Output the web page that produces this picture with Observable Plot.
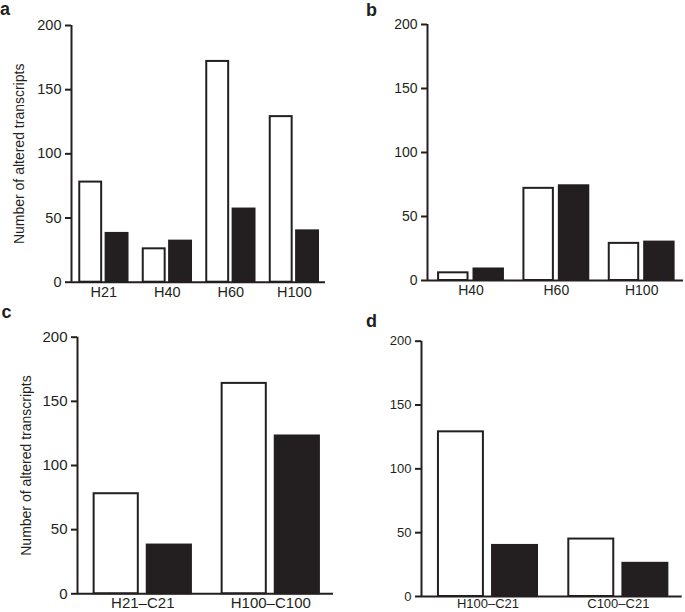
<!DOCTYPE html>
<html><head><meta charset="utf-8">
<script src="https://cdn.jsdelivr.net/npm/d3@7"></script>
<script src="https://cdn.jsdelivr.net/npm/@observablehq/plot@0.6"></script>
<style>
body{margin:0;background:#fff;}
#fig{position:relative;width:685px;height:612px;overflow:hidden;font-family:"Liberation Sans",Arial,Helvetica,sans-serif;color:#231f20;}
.panel{position:absolute;}
.tag{position:absolute;font-weight:bold;font-size:18px;line-height:18px;}
</style></head>
<body><div id="fig"></div>
<script>
// ---- data ----
const catsA = ["H21", "H40", "H60", "H100"];
const whiteA = [78, 26, 172, 129];
const blackA = [38, 32, 57, 40];

const catsB = ["H40", "H60", "H100"];
const whiteB = [6, 72, 29];
const blackB = [9, 74, 30];

const catsC = ["H21–C21", "H100–C100"];
const whiteC = [78, 164];
const blackC = [38, 123];

const catsD = ["H100–C21", "C100–C21"];
const whiteD = [129, 45];
const blackD = [40, 26];

const yTicks = [0, 50, 100, 150, 200];
const yTitle = "Number of altered transcripts";
const ink = "#231f20";

function panel(o) {
  const n = o.cats.length;
  const xMin = -0.51, xMax = n - 1 + 0.49;
  const rows = o.cats.map((c, i) => ({i, white: o.white[i], black: o.black[i]}));
  const marks = [
    Plot.rect(rows, {x1: d => d.i - 0.38, x2: d => d.i - 0.035, y1: 0, y2: "white", fill: "#fff", stroke: ink, strokeWidth: 2}),
    Plot.rect(rows, {x1: d => d.i + 0.035, x2: d => d.i + 0.38, y1: 0, y2: "black", fill: ink, stroke: ink, strokeWidth: 2}),
    Plot.axisY({ticks: yTicks, tickSize: 6, tickPadding: 4, strokeWidth: 2, label: null, tickFormat: d => String(d)}),
    Plot.axisX({ticks: d3.range(n), tickFormat: i => o.cats[i], tickSize: 0, tickPadding: o.xPad, label: null}),
    Plot.ruleY([0], {stroke: ink, strokeWidth: 2}),
    Plot.ruleX([xMin], {stroke: ink, strokeWidth: 2})
  ];
  if (o.title) {
    marks.push(Plot.text([yTitle], {text: d => d, frameAnchor: "left", rotate: -90, dx: -o.titleOffset, fontSize: 14, textAnchor: "middle", fill: ink}));
  }
  const svg = Plot.plot({
    width: o.width, height: o.height,
    marginLeft: o.mL, marginRight: o.mR, marginTop: o.mT, marginBottom: o.mB,
    style: {fontFamily: '"Liberation Sans", Arial, Helvetica, sans-serif', fontSize: o.font + "px", color: ink, background: "transparent", overflow: "visible"},
    x: {domain: [xMin, xMax]},
    y: {domain: [0, 200]},
    marks
  });
  svg.classList.add("panel");
  svg.style.left = o.left + "px";
  svg.style.top = o.top + "px";
  svg.style.position = "absolute";
  document.getElementById("fig").appendChild(svg);
  const t = document.createElement("div");
  t.className = "tag";
  t.textContent = o.tag;
  t.style.left = o.tagX + "px";
  t.style.top = o.tagY + "px";
  document.getElementById("fig").appendChild(t);
}

panel({cats: catsA, white: whiteA, black: blackA, left: 0, top: 0, width: 340, height: 300,
  mL: 71, mR: 15, mT: 25, mB: 18.3, font: 14.5, xPad: 5, title: true, titleOffset: 52, tag: "a", tagX: 0, tagY: 0});
panel({cats: catsB, white: whiteB, black: blackB, left: 340, top: 0, width: 345, height: 300,
  mL: 87, mR: 2, mT: 24, mB: 20, font: 14, xPad: 5, title: false, tag: "b", tagX: 366, tagY: 0.5});
panel({cats: catsC, white: whiteC, black: blackC, left: 0, top: 300, width: 340, height: 312,
  mL: 77, mR: 7, mT: 36.7, mB: 18.7, font: 15, xPad: 4, title: true, titleOffset: 51, tag: "c", tagX: 1.5, tagY: 303});
panel({cats: catsD, white: whiteD, black: blackD, left: 340, top: 300, width: 345, height: 312,
  mL: 81, mR: 3.3, mT: 40.7, mB: 16, font: 13, xPad: 2.5, title: false, tag: "d", tagX: 366, tagY: 311.5});
</script>
</body></html>
